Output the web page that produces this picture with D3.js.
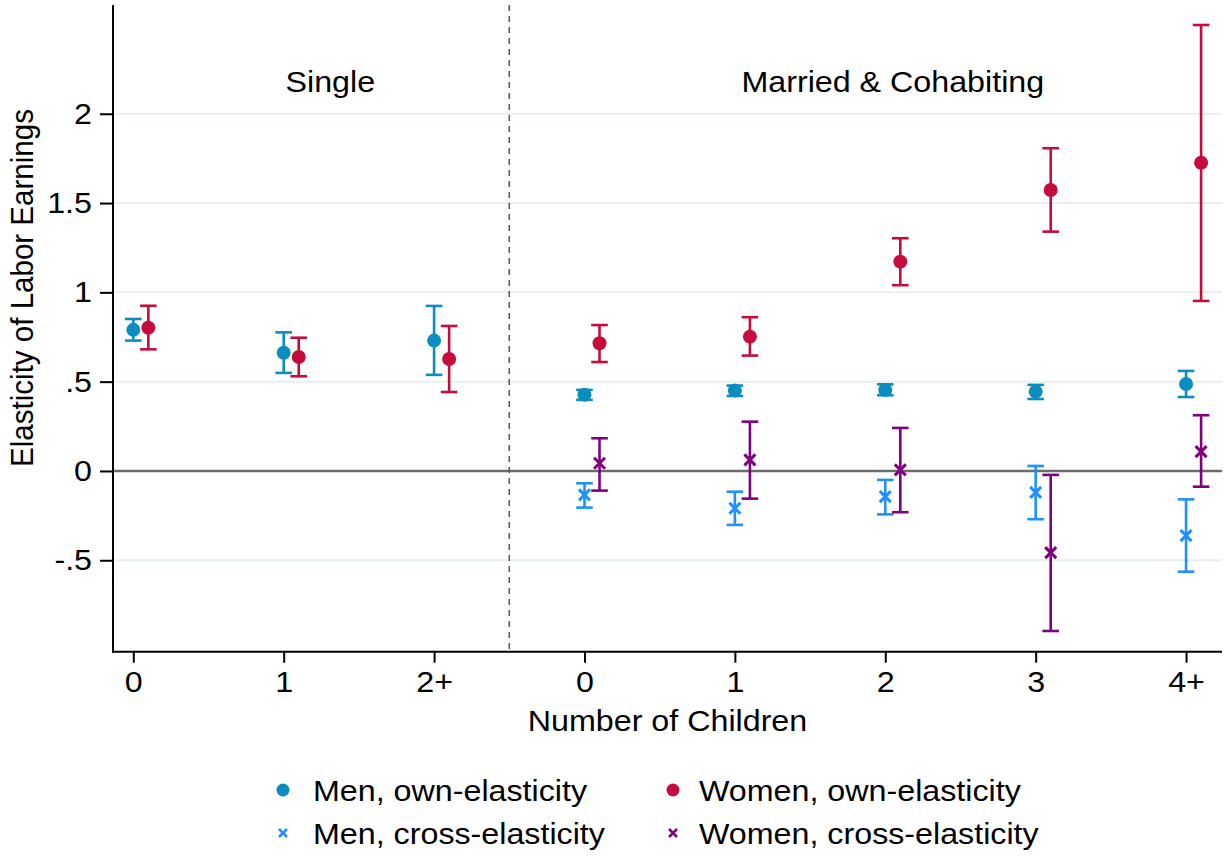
<!DOCTYPE html>
<html>
<head>
<meta charset="utf-8">
<script src="https://cdn.jsdelivr.net/npm/d3@7"></script>
<style>
  html, body { margin: 0; padding: 0; background: #fff; }
  svg { display: block; font-family: "Liberation Sans", Arial, sans-serif; }
</style>
</head>
<body>
<svg id="chart" width="1225" height="856"></svg>
<script>
// ---- data ----
const categories = ["0", "1", "2+", "0", "1", "2", "3", "4+"];
const groupLabels = ["Single", "Married & Cohabiting"];
const groupLabelPos = [1.31, 5.05];
const groupDivider = [2.5];

const menOwn     = [0.790, 0.662, 0.730, 0.427, 0.450, 0.454, 0.444, 0.487];
const menOwnLo   = [0.730, 0.549, 0.538, 0.398, 0.420, 0.424, 0.403, 0.414];
const menOwnHi   = [0.851, 0.776, 0.924, 0.454, 0.478, 0.485, 0.482, 0.560];

const womenOwn   = [0.802, 0.638, 0.627, 0.715, 0.752, 1.172, 1.573, 1.726];
const womenOwnLo = [0.681, 0.530, 0.442, 0.610, 0.646, 1.040, 1.340, 0.952];
const womenOwnHi = [0.925, 0.746, 0.812, 0.817, 0.861, 1.303, 1.807, 2.497];

const menCross   = [null, null, null, -0.134, -0.209, -0.144, -0.120, -0.362];
const menCrossLo = [null, null, null, -0.205, -0.302, -0.243, -0.270, -0.564];
const menCrossHi = [null, null, null, -0.069, -0.116, -0.050, 0.028, -0.159];

const womenCross   = [null, null, null, 0.043, 0.062, 0.006, -0.457, 0.108];
const womenCrossLo = [null, null, null, -0.110, -0.155, -0.231, -0.896, -0.088];
const womenCrossHi = [null, null, null, 0.183, 0.276, 0.241, -0.022, 0.312];

const yTicks = [-0.5, 0, 0.5, 1, 1.5, 2];
const yTickLabels = ["-.5", "0", ".5", "1", "1.5", "2"];

const seriesNames = ["Men, own-elasticity", "Women, own-elasticity", "Men, cross-elasticity", "Women, cross-elasticity"];

// ---- layout / style ----
const colors = ["#0b8dc0", "#c50c3c", "#1e90ff", "#800080"];
const offsets = [0, 0.1, 0, 0.1];
const shapes = ["circle", "circle", "x", "x"];

const svg = d3.select("#chart");
const pLeft = 113, pRight = 1222, pTop = 5, pBottom = 651.7;

const x = d3.scaleLinear().domain([-0.135, 7.239]).range([pLeft, pRight]);
const y = d3.scaleLinear().domain([-1.012, 2.609]).range([pBottom, pTop]);

const fontSize = 30;
const sx = 1.075; // horizontal text stretch

function addText(parent, tx, ty, str, anchor) {
  return parent.append("text")
    .attr("transform", `translate(${tx},${ty}) scale(${sx},1)`)
    .attr("text-anchor", anchor || "start")
    .attr("font-size", fontSize).attr("fill", "#000")
    .text(str);
}

// gridlines
svg.append("g").selectAll("line")
  .data(yTicks.filter(d => d !== 0))
  .join("line")
  .attr("x1", pLeft).attr("x2", pRight)
  .attr("y1", d => y(d)).attr("y2", d => y(d))
  .attr("stroke", "#e6eef2").attr("stroke-width", 2);

// zero line
svg.append("line")
  .attr("x1", pLeft).attr("x2", pRight)
  .attr("y1", y(0)).attr("y2", y(0))
  .attr("stroke", "#6b6b6b").attr("stroke-width", 2.5);

// divider
svg.append("g").selectAll("line")
  .data(groupDivider)
  .join("line")
  .attr("x1", d => x(d)).attr("x2", d => x(d))
  .attr("y1", pTop).attr("y2", pBottom)
  .attr("stroke", "#555").attr("stroke-width", 1.5)
  .attr("stroke-dasharray", "6,5");

// y axis
const yAxis = d3.axisLeft(y)
  .tickValues(yTicks)
  .tickFormat((d, i) => yTickLabels[i])
  .tickSize(13).tickPadding(8);
const gy = svg.append("g").attr("transform", `translate(${pLeft},0)`).call(yAxis);
gy.select(".domain").remove();
gy.selectAll(".tick line").attr("stroke", "#000").attr("stroke-width", 2);
gy.selectAll(".tick text").attr("font-size", fontSize).attr("fill", "#000")
  .attr("font-family", "Liberation Sans, Arial, sans-serif")
  .attr("transform", `scale(${sx},1)`).attr("x", -21 / sx);
svg.append("line").attr("x1", pLeft).attr("x2", pLeft).attr("y1", pTop).attr("y2", pBottom + 1)
  .attr("stroke", "#000").attr("stroke-width", 2);

// x axis
const xAxis = d3.axisBottom(x)
  .tickValues(d3.range(categories.length))
  .tickFormat((d, i) => categories[i])
  .tickSize(11).tickPadding(8);
const gx = svg.append("g").attr("transform", `translate(0,${pBottom})`).call(xAxis);
gx.select(".domain").remove();
gx.selectAll(".tick line").attr("stroke", "#000").attr("stroke-width", 2);
gx.selectAll(".tick text").attr("font-size", fontSize).attr("fill", "#000")
  .attr("font-family", "Liberation Sans, Arial, sans-serif")
  .attr("transform", `scale(${sx},1)`);
svg.append("line").attr("x1", pLeft - 1).attr("x2", pRight).attr("y1", pBottom).attr("y2", pBottom)
  .attr("stroke", "#000").attr("stroke-width", 2);

// axis titles
addText(svg, (pLeft + pRight) / 2, 731, "Number of Children", "middle");
svg.append("text")
  .attr("transform", `translate(33,288) rotate(-90) scale(0.985,${sx})`)
  .attr("text-anchor", "middle").attr("font-size", fontSize)
  .text("Elasticity of Labor Earnings");

// group labels
const gl = svg.append("g");
groupLabels.forEach((lab, i) => addText(gl, x(groupLabelPos[i]), 92, lab, "middle"));

// series
const allSeries = [
  {v: menOwn, lo: menOwnLo, hi: menOwnHi},
  {v: womenOwn, lo: womenOwnLo, hi: womenOwnHi},
  {v: menCross, lo: menCrossLo, hi: menCrossHi},
  {v: womenCross, lo: womenCrossLo, hi: womenCrossHi}
];
const capHalf = 8.3;

allSeries.forEach((s, si) => {
  const pts = s.v.map((v, i) => ({i, v, lo: s.lo[i], hi: s.hi[i]})).filter(d => d.v !== null);
  const g = svg.append("g").attr("stroke", colors[si]).attr("fill", colors[si]);
  const px = d => x(d.i + offsets[si]);
  g.selectAll("line.bar").data(pts).join("line").attr("class", "bar")
    .attr("x1", px).attr("x2", px).attr("y1", d => y(d.lo)).attr("y2", d => y(d.hi))
    .attr("stroke-width", 2.6);
  g.selectAll("line.caplo").data(pts).join("line").attr("class", "caplo")
    .attr("x1", d => px(d) - capHalf).attr("x2", d => px(d) + capHalf)
    .attr("y1", d => y(d.lo)).attr("y2", d => y(d.lo)).attr("stroke-width", 2.6);
  g.selectAll("line.caphi").data(pts).join("line").attr("class", "caphi")
    .attr("x1", d => px(d) - capHalf).attr("x2", d => px(d) + capHalf)
    .attr("y1", d => y(d.hi)).attr("y2", d => y(d.hi)).attr("stroke-width", 2.6);
  if (shapes[si] === "circle") {
    g.selectAll("circle").data(pts).join("circle")
      .attr("cx", px).attr("cy", d => y(d.v)).attr("r", 7).attr("stroke", "none");
  } else {
    const h = 5.5;
    g.selectAll("path.x").data(pts).join("path").attr("class", "x")
      .attr("d", d => `M${px(d)-h},${y(d.v)-h}L${px(d)+h},${y(d.v)+h}M${px(d)-h},${y(d.v)+h}L${px(d)+h},${y(d.v)-h}`)
      .attr("stroke-width", 3).attr("fill", "none");
  }
});

// legend
const legendX = [283, 673];
const legendY = [790, 833];
const legend = svg.append("g");
seriesNames.forEach((name, si) => {
  const col = si % 2, row = Math.floor(si / 2);
  const lx = legendX[col], ly = legendY[row];
  if (shapes[si] === "circle") {
    legend.append("circle").attr("cx", lx).attr("cy", ly).attr("r", 6.5).attr("fill", colors[si]);
  } else {
    const h = 4;
    legend.append("path")
      .attr("d", `M${lx-h},${ly-h}L${lx+h},${ly+h}M${lx-h},${ly+h}L${lx+h},${ly-h}`)
      .attr("stroke", colors[si]).attr("stroke-width", 2.5).attr("fill", "none");
  }
  addText(legend, lx + (col === 0 ? 30 : 26), ly + 11, name, "start");
});
</script>
</body>
</html>
